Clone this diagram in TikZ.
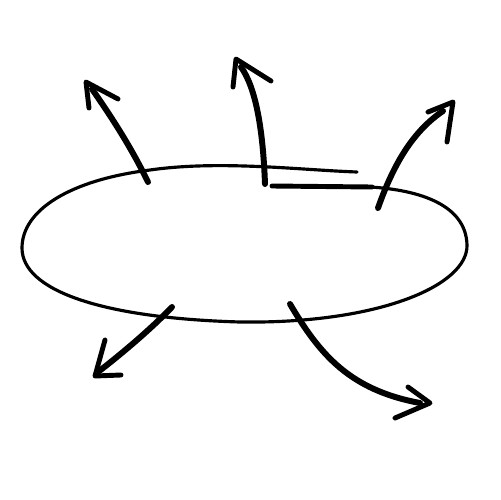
\documentclass[tikz,border=0pt]{standalone}

\tikzset{
  rim/.style={line width=1.8pt,line cap=round,line join=round},
  shaft/.style={line width=3.4pt,line cap=round},
  barb/.style={line width=2.8pt,line cap=round,line join=round}
}

\begin{document}
\begin{tikzpicture}[x=0.02cm,y=-0.02cm]
\useasboundingbox (0,0) rectangle (500,500);
% hand drawn ellipse, two overlapping strokes at the top
\draw[rim] (357,172) .. controls (300,170) and (220,160) .. (150,170)
	.. controls (70,180) and (22,210) .. (22,248)
	.. controls (22,290) and (100,318) .. (240,322)
	.. controls (380,324) and (468,285) .. (467,245)
	.. controls (466,205) and (420,190) .. (370,187);
\draw[rim,line width=2.8pt] (272,186) -- (372,187);
% arrows pointing outwards
\foreach \a/\b/\c/\d/\tip/\l/\r in {
	{148,182}/{130,145}/{110,115}/{92,89}/{86,82}/{89,108}/{118,99},
	{265,184}/{263,130}/{256,88}/{241,67}/{236,59}/{233,87}/{271,81},
	{378,208}/{395,160}/{415,130}/{443,111}/{453,102}/{428,112}/{447,142},
	{172,307}/{150,330}/{120,355}/{98,372}/{95,376}/{105,340}/{121,375},
	{290,304}/{320,355}/{350,390}/{420,403}/{430,403}/{408,387}/{395,418}} {
	\coordinate (start) at (\a);
	\coordinate (tip) at (\tip);
	\draw[shaft] (start) .. controls (\b) and (\c) .. (\d);
	\draw[barb] (\l) -- (tip) -- (\r);
	}
\end{tikzpicture}
\end{document}
